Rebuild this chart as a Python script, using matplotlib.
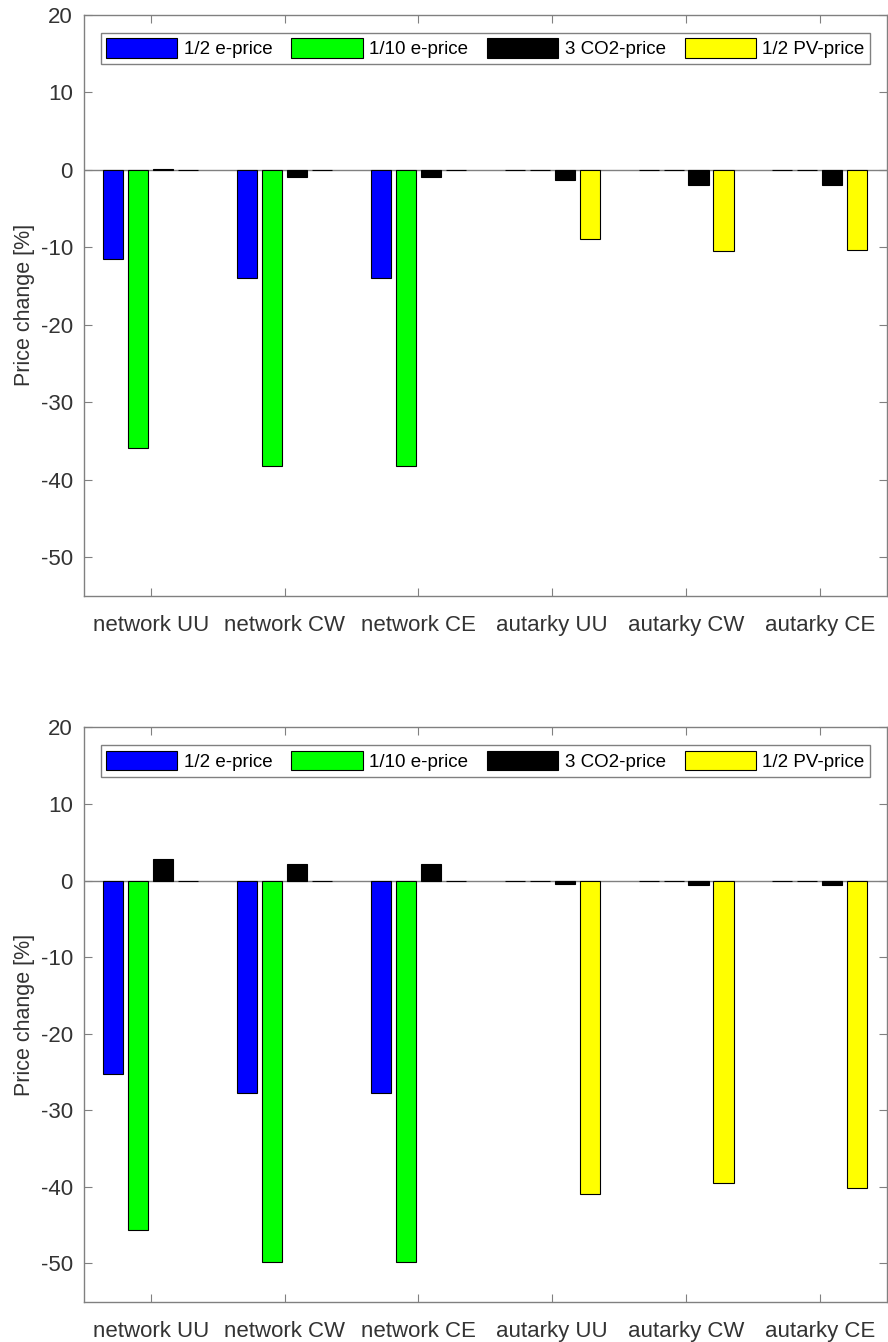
import numpy as np
import matplotlib
matplotlib.use("Agg")
import matplotlib.pyplot as plt

plt.rcParams['font.family'] = ['Liberation Sans', 'DejaVu Sans']
plt.rcParams['axes.unicode_minus'] = False

# data
groups = ['network UU', 'network CW', 'network CE', 'autarky UU', 'autarky CW', 'autarky CE']
series = ['1/2 e-price', '1/10 e-price', '3 CO2-price', '1/2 PV-price']
colors = ['#0000ff', '#00ff00', '#000000', '#ffff00']

# top panel values [%]
top_half_e = [-11.5, -14.0, -14.0, 0.0, 0.0, 0.0]
top_tenth_e = [-35.9, -38.3, -38.3, 0.0, 0.0, 0.0]
top_co2 = [0.1, -1.0, -1.0, -1.3, -2.0, -2.0]
top_pv = [0.0, 0.0, 0.0, -9.0, -10.5, -10.3]

# bottom panel values [%]
bot_half_e = [-25.2, -27.7, -27.7, 0.0, 0.0, 0.0]
bot_tenth_e = [-45.6, -49.8, -49.8, 0.0, 0.0, 0.0]
bot_co2 = [2.8, 2.1, 2.1, -0.4, -0.6, -0.6]
bot_pv = [0.0, 0.0, 0.0, -40.9, -39.5, -40.2]

yticks = [-50, -40, -30, -20, -10, 0, 10, 20]

spine_col = '#808080'
text_col = '#333333'


def draw_panel(ax, values):
    x = np.arange(1, len(groups) + 1)
    offsets = [-0.28, -0.093, 0.093, 0.28]
    for vals, off, col, lab in zip(values, offsets, colors, series):
        ax.bar(x + off, vals, width=0.15, color=col, edgecolor='black',
               linewidth=0.8, label=lab, zorder=2)
    ax.axhline(0, color=spine_col, linewidth=1.0, zorder=1)
    ax.set_xlim(0.5, 6.5)
    ax.set_ylim(-55, 20)
    ax.set_xticks(x)
    ax.set_xticklabels(groups)
    ax.set_yticks(yticks)
    ax.tick_params(direction='in', top=True, right=True, length=6,
                   color=spine_col, labelcolor=text_col, labelsize=16, pad=8)
    ax.tick_params(axis='x', pad=14)
    for s in ax.spines.values():
        s.set_color(spine_col)
        s.set_linewidth(1.0)
    ax.set_ylabel('Price change [%]', fontsize=15.5, color=text_col, labelpad=4)
    leg = ax.legend(ncol=4, loc='upper center', bbox_to_anchor=(0.5, 0.985),
                    fontsize=13.5, handlelength=3.8, handleheight=1.2,
                    handletextpad=0.35, columnspacing=1.0, borderpad=0.3,
                    fancybox=False, framealpha=1)
    leg.get_frame().set_edgecolor(spine_col)
    leg.get_frame().set_linewidth(1.0)


fig = plt.figure(figsize=(8.88, 13.42), dpi=100)
ax1 = fig.add_axes([0.0946, 0.556, 0.904, 0.433])
ax2 = fig.add_axes([0.0946, 0.030, 0.904, 0.428])

draw_panel(ax1, [top_half_e, top_tenth_e, top_co2, top_pv])
draw_panel(ax2, [bot_half_e, bot_tenth_e, bot_co2, bot_pv])

fig.savefig('out.png', dpi=100)
